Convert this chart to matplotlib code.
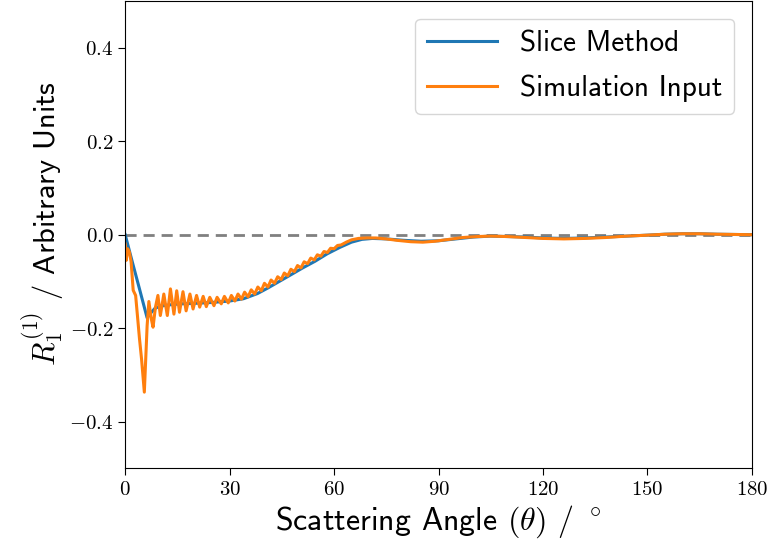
#!/usr/bin/env python3
"""First-order R coefficient vs scattering angle: slice method against simulation input."""
import matplotlib

matplotlib.use("Agg")
import matplotlib.pyplot as plt

plt.rcParams["mathtext.fontset"] = "cm"
plt.rcParams["font.family"] = ["cmss10", "DejaVu Sans"]
plt.rcParams["axes.unicode_minus"] = False

# slice method reconstruction
slice_angle = [0, 2, 4, 6.3, 7.3, 8.5, 10, 13, 16, 20, 25, 30, 34, 38, 41, 44.5,
               48, 51, 54.5, 58, 61.7, 65, 68, 71, 75, 80, 85, 90, 95, 100, 105,
               110, 115, 120, 126, 132, 138, 144, 150, 155, 160, 165, 170, 180]
slice_r1 = [0.0, -0.057, -0.113, -0.178, -0.168, -0.158, -0.153, -0.150, -0.148,
            -0.147, -0.145, -0.142, -0.137, -0.126, -0.114, -0.099, -0.084, -0.071,
            -0.057, -0.041, -0.027, -0.016, -0.010, -0.008, -0.009, -0.012, -0.014,
            -0.013, -0.009, -0.005, -0.003, -0.004, -0.005, -0.007, -0.008, -0.007,
            -0.005, -0.003, -0.001, 0.001, 0.002, 0.002, 0.001, 0.0]

# simulation input (ringing at small angles)
sim_angle = [0.0, 0.3, 0.7, 1.2, 1.7, 2.3, 3.0, 3.6, 4.1, 4.7, 5.5, 6.3, 6.8, 7.5,
             8.0, 8.7, 9.4, 10.1, 11.1, 12.1, 13.0, 14.0, 14.8, 15.6, 16.6, 17.5,
             18.6, 19.5, 20.5, 21.4, 22.4, 23.3, 24.3, 25.5, 26.4, 27.6, 28.5, 29.6,
             30.5, 31.5, 32.4, 33.4, 34.3, 35.3, 36.2, 37.2, 38.1, 39.1, 40.0, 41.0,
             41.9, 42.9, 43.8, 44.8, 45.7, 46.7, 47.6, 48.6, 49.5, 50.5, 51.4, 52.4,
             53.3, 54.3, 55.2, 56.2, 57.1, 58.1, 59.0, 60.0, 61.0, 62.0, 63.5, 65.0,
             67.0, 69.5, 72.0, 75.0, 78.0, 82.0, 85.5, 89.0, 93.0, 97.0, 101.0,
             105.0, 110.0, 115.0, 120.0, 126.0, 132.0, 138.0, 144.0, 150.0, 155.0,
             160.0, 165.0, 170.0, 175.0, 180.0]
sim_r1 = [-0.020, -0.055, -0.030, -0.037, -0.058, -0.119, -0.130, -0.180, -0.222,
          -0.266, -0.337, -0.195, -0.143, -0.180, -0.198, -0.155, -0.130, -0.173,
          -0.127, -0.173, -0.116, -0.170, -0.120, -0.166, -0.122, -0.163, -0.127,
          -0.159, -0.130, -0.155, -0.132, -0.154, -0.134, -0.152, -0.134, -0.148,
          -0.132, -0.146, -0.130, -0.142, -0.127, -0.138, -0.123, -0.133, -0.118,
          -0.127, -0.112, -0.120, -0.104, -0.112, -0.097, -0.104, -0.090, -0.096,
          -0.082, -0.088, -0.074, -0.079, -0.066, -0.071, -0.058, -0.062, -0.050,
          -0.054, -0.043, -0.046, -0.036, -0.038, -0.029, -0.030, -0.023, -0.022,
          -0.016, -0.011, -0.008, -0.007, -0.007, -0.009, -0.012, -0.015, -0.016,
          -0.014, -0.010, -0.006, -0.004, -0.003, -0.004, -0.006, -0.008, -0.009,
          -0.008, -0.006, -0.003, -0.001, 0.001, 0.002, 0.002, 0.001, 0.0005, 0.0]

x_ticks = [0, 30, 60, 90, 120, 150, 180]
y_ticks = [-0.4, -0.2, 0.0, 0.2, 0.4]


def main():
    fig = plt.figure(figsize=(7.68, 5.49), dpi=100)
    ax = fig.add_axes([0.163, 0.147, 0.816, 0.851])

    ax.axhline(0, color="gray", linestyle="--", linewidth=2, dashes=(4, 2.5), zorder=1)
    ax.plot(slice_angle, slice_r1, color="#1f77b4", linewidth=2.2, label="Slice Method")
    ax.plot(sim_angle, sim_r1, color="#ff7f0e", linewidth=2.2, label="Simulation Input")

    ax.set_xlim(0, 180)
    ax.set_ylim(-0.5, 0.5)
    ax.set_xticks(x_ticks)
    ax.set_xticklabels([f"${t}$" for t in x_ticks])
    ax.set_yticks(y_ticks)
    ax.set_yticklabels([f"${t:.1f}$" for t in y_ticks])
    ax.tick_params(labelsize=15, length=5)

    ax.set_xlabel(r"Scattering Angle $(\theta)$ / $^\circ$", fontsize=23, labelpad=3)
    ax.set_ylabel(r"$R_1^{(1)}$ / Arbitrary Units", fontsize=22)
    ax.yaxis.set_label_coords(-0.094, 0.524)

    ax.legend(loc="upper right", fontsize=21, handlelength=2.4,
              labelspacing=0.6, borderaxespad=0.6)

    fig.savefig("out.png", dpi=100)
    plt.close(fig)


if __name__ == "__main__":
    main()
